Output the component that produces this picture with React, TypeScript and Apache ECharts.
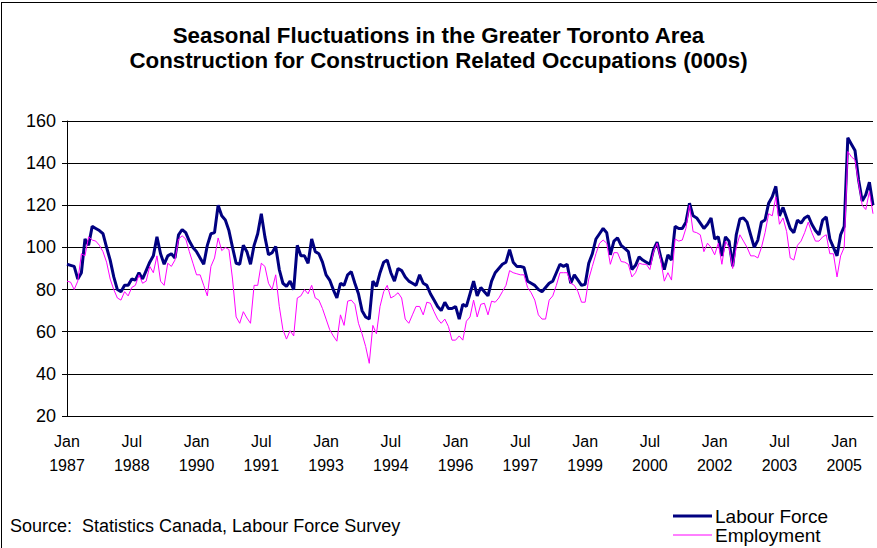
import React, { useEffect, useRef } from "react";
import * as echarts from "echarts";

const startYear = 1987;
const monthNames = ["Jan", "Feb", "Mar", "Apr", "May", "Jun", "Jul", "Aug", "Sep", "Oct", "Nov", "Dec"];

// Labour force (000s), monthly from Jan 1987
const labourForce = [
  92, 91.5, 91, 85, 88, 104, 101, 110, 109, 108, 106.5, 100,
  94, 86, 80, 79, 82, 82, 85, 84.5, 88, 85, 89, 93,
  96, 105, 97, 92, 96, 97, 95, 106, 108.5, 107, 103, 100,
  98, 95, 92, 101, 106.5, 107, 120, 115, 113, 108, 100, 92.5,
  92, 101, 98, 92, 101, 106.5, 116, 105, 96.5, 97.5, 100.5, 89.5,
  83, 81.5, 84, 80, 101, 96, 96, 92.5, 104, 98, 97, 93,
  87, 84.5, 80, 76, 83, 82, 87, 88.5, 83, 78, 70, 67,
  66, 84, 81.5, 88, 93, 94, 88, 84, 90, 89, 86, 84,
  83, 82, 87, 83, 82, 78, 75, 72, 70, 74, 71, 71,
  72, 66, 73, 72, 78, 84, 77, 81, 79, 77, 84, 88,
  90, 92, 93, 99, 93, 91, 91, 90.5, 84, 83, 82, 80,
  79, 81, 83, 84, 88, 92, 91, 92, 83, 87, 84.5, 82,
  82.5, 92.5, 97, 104, 106.5, 109, 107, 96.5, 103, 104.5, 101, 99.5,
  98, 89.5, 91.5, 95.5, 94, 93, 92, 99, 102.5, 95.5, 89.5, 96.5,
  94, 110, 109, 109, 112, 121, 115, 114, 111.5, 109, 111, 114,
  104, 105, 96, 105, 103, 91, 106, 113.5, 114, 112, 106, 100,
  103.5, 112, 113, 121, 124, 129, 115, 119, 114, 109, 107, 113,
  111.5, 114, 115, 111, 108, 106, 113, 114.5, 104, 100, 96, 106,
  110, 152, 149, 146, 132, 122, 125, 131, 120,
];

// Employment (000s), monthly from Jan 1987
const employment = [
  84, 83.5, 80, 84, 97, 96, 105, 103.5, 103, 101, 98, 93,
  85, 80, 76, 75, 79, 77, 81, 82, 87, 83, 84, 91,
  88, 96, 84, 82, 92.5, 91, 94, 104, 105.5, 104, 98, 92.5,
  87, 87, 82, 77, 91, 95, 104.5, 98.5, 100, 99, 85, 67,
  64, 69.5, 66.5, 64, 82, 82, 92.5, 91, 83, 80, 87, 72,
  61, 56.5, 60.5, 58, 76, 77, 80, 78, 82, 76, 75, 71,
  66, 61, 58, 55.5, 68, 63, 74.5, 75, 73, 64, 59, 53,
  45, 63, 59, 72, 79, 82, 76, 77, 78.5, 76, 66, 64,
  68, 72, 72, 68, 74, 73.5, 69.5, 66, 64, 66, 62.5, 56,
  56, 58, 56, 65, 67, 75, 67, 73, 73.5, 68, 74.5, 74,
  76, 79, 82, 89, 88, 87.5, 87, 87, 81, 78.5, 75, 68,
  66, 66, 75, 77, 82, 88, 88, 88, 83, 82, 79, 74,
  74, 85, 91, 97, 102, 103.5, 102, 92, 97.5, 97.5, 93.3, 93,
  92, 86, 88, 92.5, 92, 92, 89.5, 98, 102, 94, 84, 88,
  84.5, 104, 103, 103.5, 109, 120, 107.5, 107, 106, 98, 102, 100,
  96.5, 102, 92, 103, 100, 90, 100, 106, 103, 100, 96, 96,
  95, 100, 107, 116, 115, 124, 111, 114, 107.5, 95, 94, 101,
  103, 107, 112, 107, 103, 103, 105, 106, 97, 97, 86, 96,
  100, 145.5, 143, 141.5, 130.5, 120, 118, 126.5, 116,
];

const categories = labourForce.map((_, i) => `${monthNames[i % 12]} ${startYear + Math.floor(i / 12)}`);

const FONT = "'Liberation Sans', Arial, sans-serif";

export default function App() {
  const ref = useRef<HTMLDivElement>(null);
  useEffect(() => {
    if (!ref.current) return;
    const chart = echarts.init(ref.current, undefined, { renderer: "svg" });
    chart.setOption({
      animation: false,
      backgroundColor: "#ffffff",
      textStyle: { fontFamily: FONT },
      title: {
        text: "Seasonal Fluctuations in the Greater Toronto Area\nConstruction for Construction Related Occupations (000s)",
        left: "center",
        top: 23,
        padding: 0,
        textStyle: { fontSize: 22.3, fontWeight: "bold", color: "#000", lineHeight: 25, fontFamily: FONT },
      },
      grid: { left: 67, right: 4, top: 121, bottom: 132 },
      xAxis: {
        type: "category",
        data: categories,
        boundaryGap: false,
        axisLine: { lineStyle: { color: "#000", width: 1 } },
        axisTick: { show: false },
        axisLabel: {
          interval: (idx: number) => idx % 18 === 0,
          formatter: (v: string) => v.replace(" ", "\n"),
          fontSize: 16,
          lineHeight: 24,
          margin: 13,
          color: "#000",
          fontFamily: FONT,
        },
        splitLine: { show: false },
      },
      yAxis: {
        type: "value",
        min: 20,
        max: 160,
        interval: 20,
        axisLine: { show: true, lineStyle: { color: "#000", width: 1 } },
        axisTick: { show: true, length: 5, lineStyle: { color: "#000" } },
        axisLabel: { fontSize: 18, color: "#000", margin: 11, fontFamily: FONT },
        splitLine: { lineStyle: { color: "#000", width: 1 } },
      },
      series: [
        {
          name: "Labour Force",
          type: "line",
          data: labourForce,
          symbol: "none",
          lineStyle: { color: "#000080", width: 3 },
          itemStyle: { color: "#000080" },
        },
        {
          name: "Employment",
          type: "line",
          data: employment,
          symbol: "none",
          lineStyle: { color: "#ff00ff", width: 1 },
          itemStyle: { color: "#ff00ff" },
        },
      ],
      graphic: [
        { type: "line", shape: { x1: 1, y1: 2.5, x2: 877, y2: 2.5 }, style: { stroke: "#000", lineWidth: 1 } },
        { type: "line", shape: { x1: 1.5, y1: 2, x2: 1.5, y2: 548 }, style: { stroke: "#000", lineWidth: 1 } },
        { type: "line", shape: { x1: 673, y1: 516, x2: 712, y2: 516 }, style: { stroke: "#000080", lineWidth: 3 } },
        { type: "line", shape: { x1: 673, y1: 535, x2: 712, y2: 535 }, style: { stroke: "#ff00ff", lineWidth: 1 } },
        { type: "text", x: 715, y: 516, style: { text: "Labour Force", fontSize: 19, fill: "#000", verticalAlign: "middle", fontFamily: FONT } },
        { type: "text", x: 715, y: 535, style: { text: "Employment", fontSize: 19, fill: "#000", verticalAlign: "middle", fontFamily: FONT } },
        { type: "text", x: 10, y: 526, style: { text: "Source:  Statistics Canada, Labour Force Survey", fontSize: 18, fill: "#000", verticalAlign: "middle", fontFamily: FONT } },
      ],
    });
    return () => chart.dispose();
  }, []);
  return <div ref={ref} style={{ position: "fixed", left: 0, top: 0, width: 877, height: 548 }} />;
}
